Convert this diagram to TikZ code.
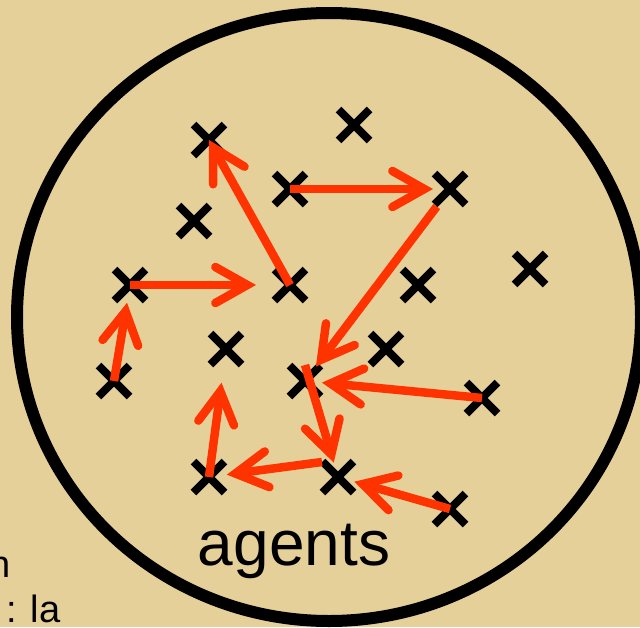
\documentclass[tikz,border=0pt]{standalone}
\usepackage{fontspec}
\setmainfont{Liberation Sans}
\usetikzlibrary{arrows.meta,shapes.misc}
\definecolor{bgtan}{RGB}{230,208,153}
\definecolor{arrowred}{RGB}{255,51,0}
\begin{document}
\begin{tikzpicture}[x=1pt,y=-1pt,
  agent/.style={cross out,draw=black,line width=8pt,minimum size=31pt,inner sep=0pt,outer sep=0pt},
  move/.style={draw=arrowred,line width=8.5pt,-{Straight Barb[length=32pt,width=36pt,line cap=round,line join=miter]}},
  lbl/.style={inner sep=0pt,anchor=base}]
\fill[bgtan] (0,0) rectangle (640,627);
\useasboundingbox (0,0) rectangle (640,627);
\draw[line width=12pt] (329,317) ellipse [x radius=312pt, y radius=304pt];
% agents
\node[agent] (A) at (209,140) {};
\node[agent] (B) at (354,125) {};
\node[agent] (C) at (290,189) {};
\node[agent] (D) at (450,189) {};
\node[agent] (E) at (194,221) {};
\node[agent] (F) at (130,285) {};
\node[agent] (G) at (290,285) {};
\node[agent] (H) at (418,285) {};
\node[agent] (I) at (530,269) {};
\node[agent] (J) at (114,381) {};
\node[agent] (K) at (226,349) {};
\node[agent] (L) at (305,381) {};
\node[agent] (M) at (386,349) {};
\node[agent] (N) at (482,398) {};
\node[agent] (O) at (209,477) {};
\node[agent] (P) at (338,477) {};
\node[agent] (Q) at (450,509) {};
\coordinate (L1) at (305,365);
\coordinate (P1) at (322,462);
% moves
\draw[move] (G.center) -- (A.center);
\draw[move,shorten >=17pt] (C.center) -- (D.center);
\draw[move,shorten <=22pt,shorten >=18pt] (D.center) -- (L.center);
\draw[move,shorten >=34pt] (F.center) -- (G.center);
\draw[move,shorten >=18pt] (J.center) -- (F.center);
\draw[move,shorten >=17pt] (N.center) -- (L.center);
\draw[move,shorten >=15pt] (L1) -- (P.center);
\draw[move,shorten >=18pt] (P1) -- (O.center);
\draw[move,shorten >=34pt] (O.center) -- (K.center);
\draw[move,shorten >=17pt] (Q.center) -- (P.center);
% labels
\node[lbl] (agentslabel) at (294,565) {\fontsize{64}{64}\selectfont agents};
\node[lbl,anchor=base east] (cutn) at (10.5,577) {\fontsize{38}{38}\selectfont n};
\node[lbl,anchor=base west] (cutla) at (6,622) {\fontsize{38}{38}\selectfont : la};
\end{tikzpicture}
\end{document}
